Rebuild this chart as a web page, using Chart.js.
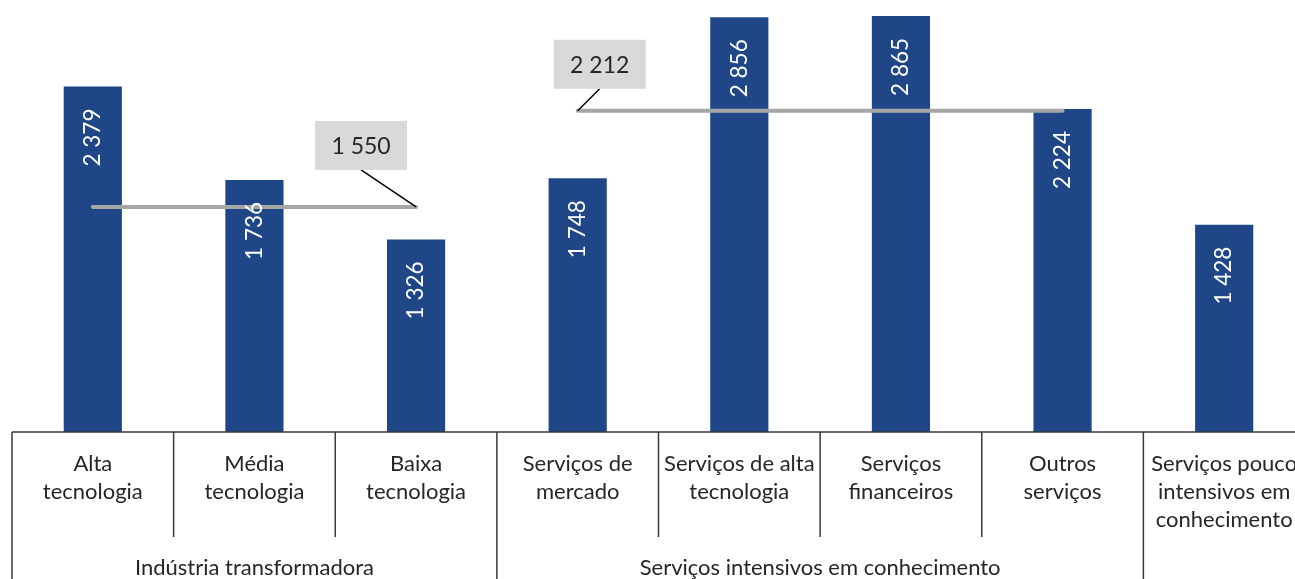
<!DOCTYPE html>
<html>
<head>
<meta charset="utf-8">
<script src="https://cdn.jsdelivr.net/npm/chart.js@4"></script>
<style>
  html, body { margin: 0; padding: 0; background: #fff; overflow: hidden; }
  #wrap { width: 1310px; height: 579px; }
</style>
</head>
<body>
<div id="wrap"><canvas id="chart" width="1310" height="579"></canvas></div>
<script>
// ===== Data
const categories = [
  ["Alta", "tecnologia"],
  ["Média", "tecnologia"],
  ["Baixa", "tecnologia"],
  ["Serviços de", "mercado"],
  ["Serviços de alta", "tecnologia"],
  ["Serviços", "financeiros"],
  ["Outros", "serviços"],
  ["Serviços pouco", "intensivos em", "conhecimento"]
];
const values = [2379, 1736, 1326, 1748, 2856, 2865, 2224, 1428];
// groups: label, first index, last index (last category has no group)
const groupLabels = ["Indústria transformadora", "Serviços intensivos em conhecimento"];
const groupStart = [0, 3];
const groupEnd = [2, 6];
const groupAverages = [1550, 2212];

const barColor = "#1f4788";
const avgColor = "#a6a6a6";
const textColor = "#262626";
const FONT = "Lato, 'Open Sans', sans-serif";

const fmt = v => String(v).replace(/\B(?=(\d{3})+(?!\d))/g, " ");

// average line data per group (null outside the group)
const avgData = groupAverages.map((avg, g) =>
  values.map((_, i) => (i >= groupStart[g] && i <= groupEnd[g] ? avg : null))
);

// ===== Custom drawing: axis box, labels, callouts
const decorations = {
  id: "decorations",
  afterDatasetsDraw(chart) {
    const ctx = chart.ctx;
    const x = chart.scales.x;
    const y = chart.scales.y;
    const area = chart.chartArea;
    const n = categories.length;
    const cw = (area.right - area.left) / n;
    const bottom = chart.height;

    // value labels rotated inside bars
    const barMeta = chart.getDatasetMeta(0);
    ctx.save();
    ctx.fillStyle = "#ffffff";
    ctx.font = "22.5px " + FONT;
    ctx.textAlign = "right";
    ctx.textBaseline = "middle";
    barMeta.data.forEach((bar, i) => {
      ctx.save();
      ctx.translate(bar.x, bar.y + 22);
      ctx.rotate(-Math.PI / 2);
      ctx.fillText(fmt(values[i]), 0, 0);
      ctx.restore();
    });
    ctx.restore();

    // axis line and boundary ticks
    ctx.save();
    ctx.strokeStyle = "#3a3a3a";
    ctx.lineWidth = 1.5;
    ctx.beginPath();
    ctx.moveTo(area.left, area.bottom);
    ctx.lineTo(chart.width, area.bottom);
    const groupEdges = [0, 3, 7];
    for (let i = 0; i <= n; i++) {
      const bx = area.left + i * cw;
      ctx.moveTo(bx, area.bottom);
      ctx.lineTo(bx, groupEdges.includes(i) ? bottom : area.bottom + 105);
    }
    ctx.stroke();
    ctx.restore();

    // category labels
    ctx.save();
    ctx.fillStyle = textColor;
    ctx.font = "22px " + FONT;
    ctx.textAlign = "center";
    ctx.textBaseline = "middle";
    categories.forEach((lines, i) => {
      const cx = x.getPixelForValue(i);
      lines.forEach((t, k) => ctx.fillText(t, cx, area.bottom + 32 + k * 28));
    });
    // group labels
    groupLabels.forEach((t, g) => {
      const gx = (area.left + groupStart[g] * cw + area.left + (groupEnd[g] + 1) * cw) / 2;
      ctx.fillText(t, gx, area.bottom + 136);
    });
    ctx.restore();

    // callout boxes for the averages
    const callouts = [
      { g: 0, anchor: "end", dx: -55, dy: -37 },
      { g: 1, anchor: "start", dx: 22, dy: -22 }
    ];
    ctx.save();
    ctx.font = "23px " + FONT;
    ctx.textAlign = "center";
    ctx.textBaseline = "middle";
    callouts.forEach(c => {
      const idx = c.anchor === "end" ? groupEnd[c.g] : groupStart[c.g];
      const px = x.getPixelForValue(idx);
      const py = y.getPixelForValue(groupAverages[c.g]);
      const bx = px + c.dx;
      const by = py + c.dy;
      const w = 92, h = 49;
      ctx.strokeStyle = "#000";
      ctx.lineWidth = 1.5;
      ctx.beginPath();
      ctx.moveTo(bx, by);
      ctx.lineTo(px, py);
      ctx.stroke();
      ctx.fillStyle = "#d9d9d9";
      ctx.fillRect(bx - w / 2, by - h, w, h);
      ctx.fillStyle = textColor;
      ctx.fillText(fmt(groupAverages[c.g]), bx, by - h / 2 + 1);
    });
    ctx.restore();
  }
};

new Chart(document.getElementById("chart"), {
  type: "bar",
  data: {
    labels: categories,
    datasets: [
      {
        type: "bar",
        data: values,
        backgroundColor: barColor,
        barPercentage: 0.36,
        categoryPercentage: 1,
        order: 2
      },
      ...avgData.map(d => ({
        type: "line",
        data: d,
        borderColor: avgColor,
        borderWidth: 4,
        borderCapStyle: "round",
        pointRadius: 0,
        spanGaps: false,
        order: 1
      }))
    ]
  },
  options: {
    responsive: false,
    animation: false,
    layout: { padding: { left: 12, right: 5, top: 0, bottom: 147 } },
    plugins: { legend: { display: false }, tooltip: { enabled: false } },
    scales: {
      x: { display: false },
      y: { display: false, min: 0, max: 2975 }
    }
  },
  plugins: [decorations]
});
</script>
</body>
</html>
